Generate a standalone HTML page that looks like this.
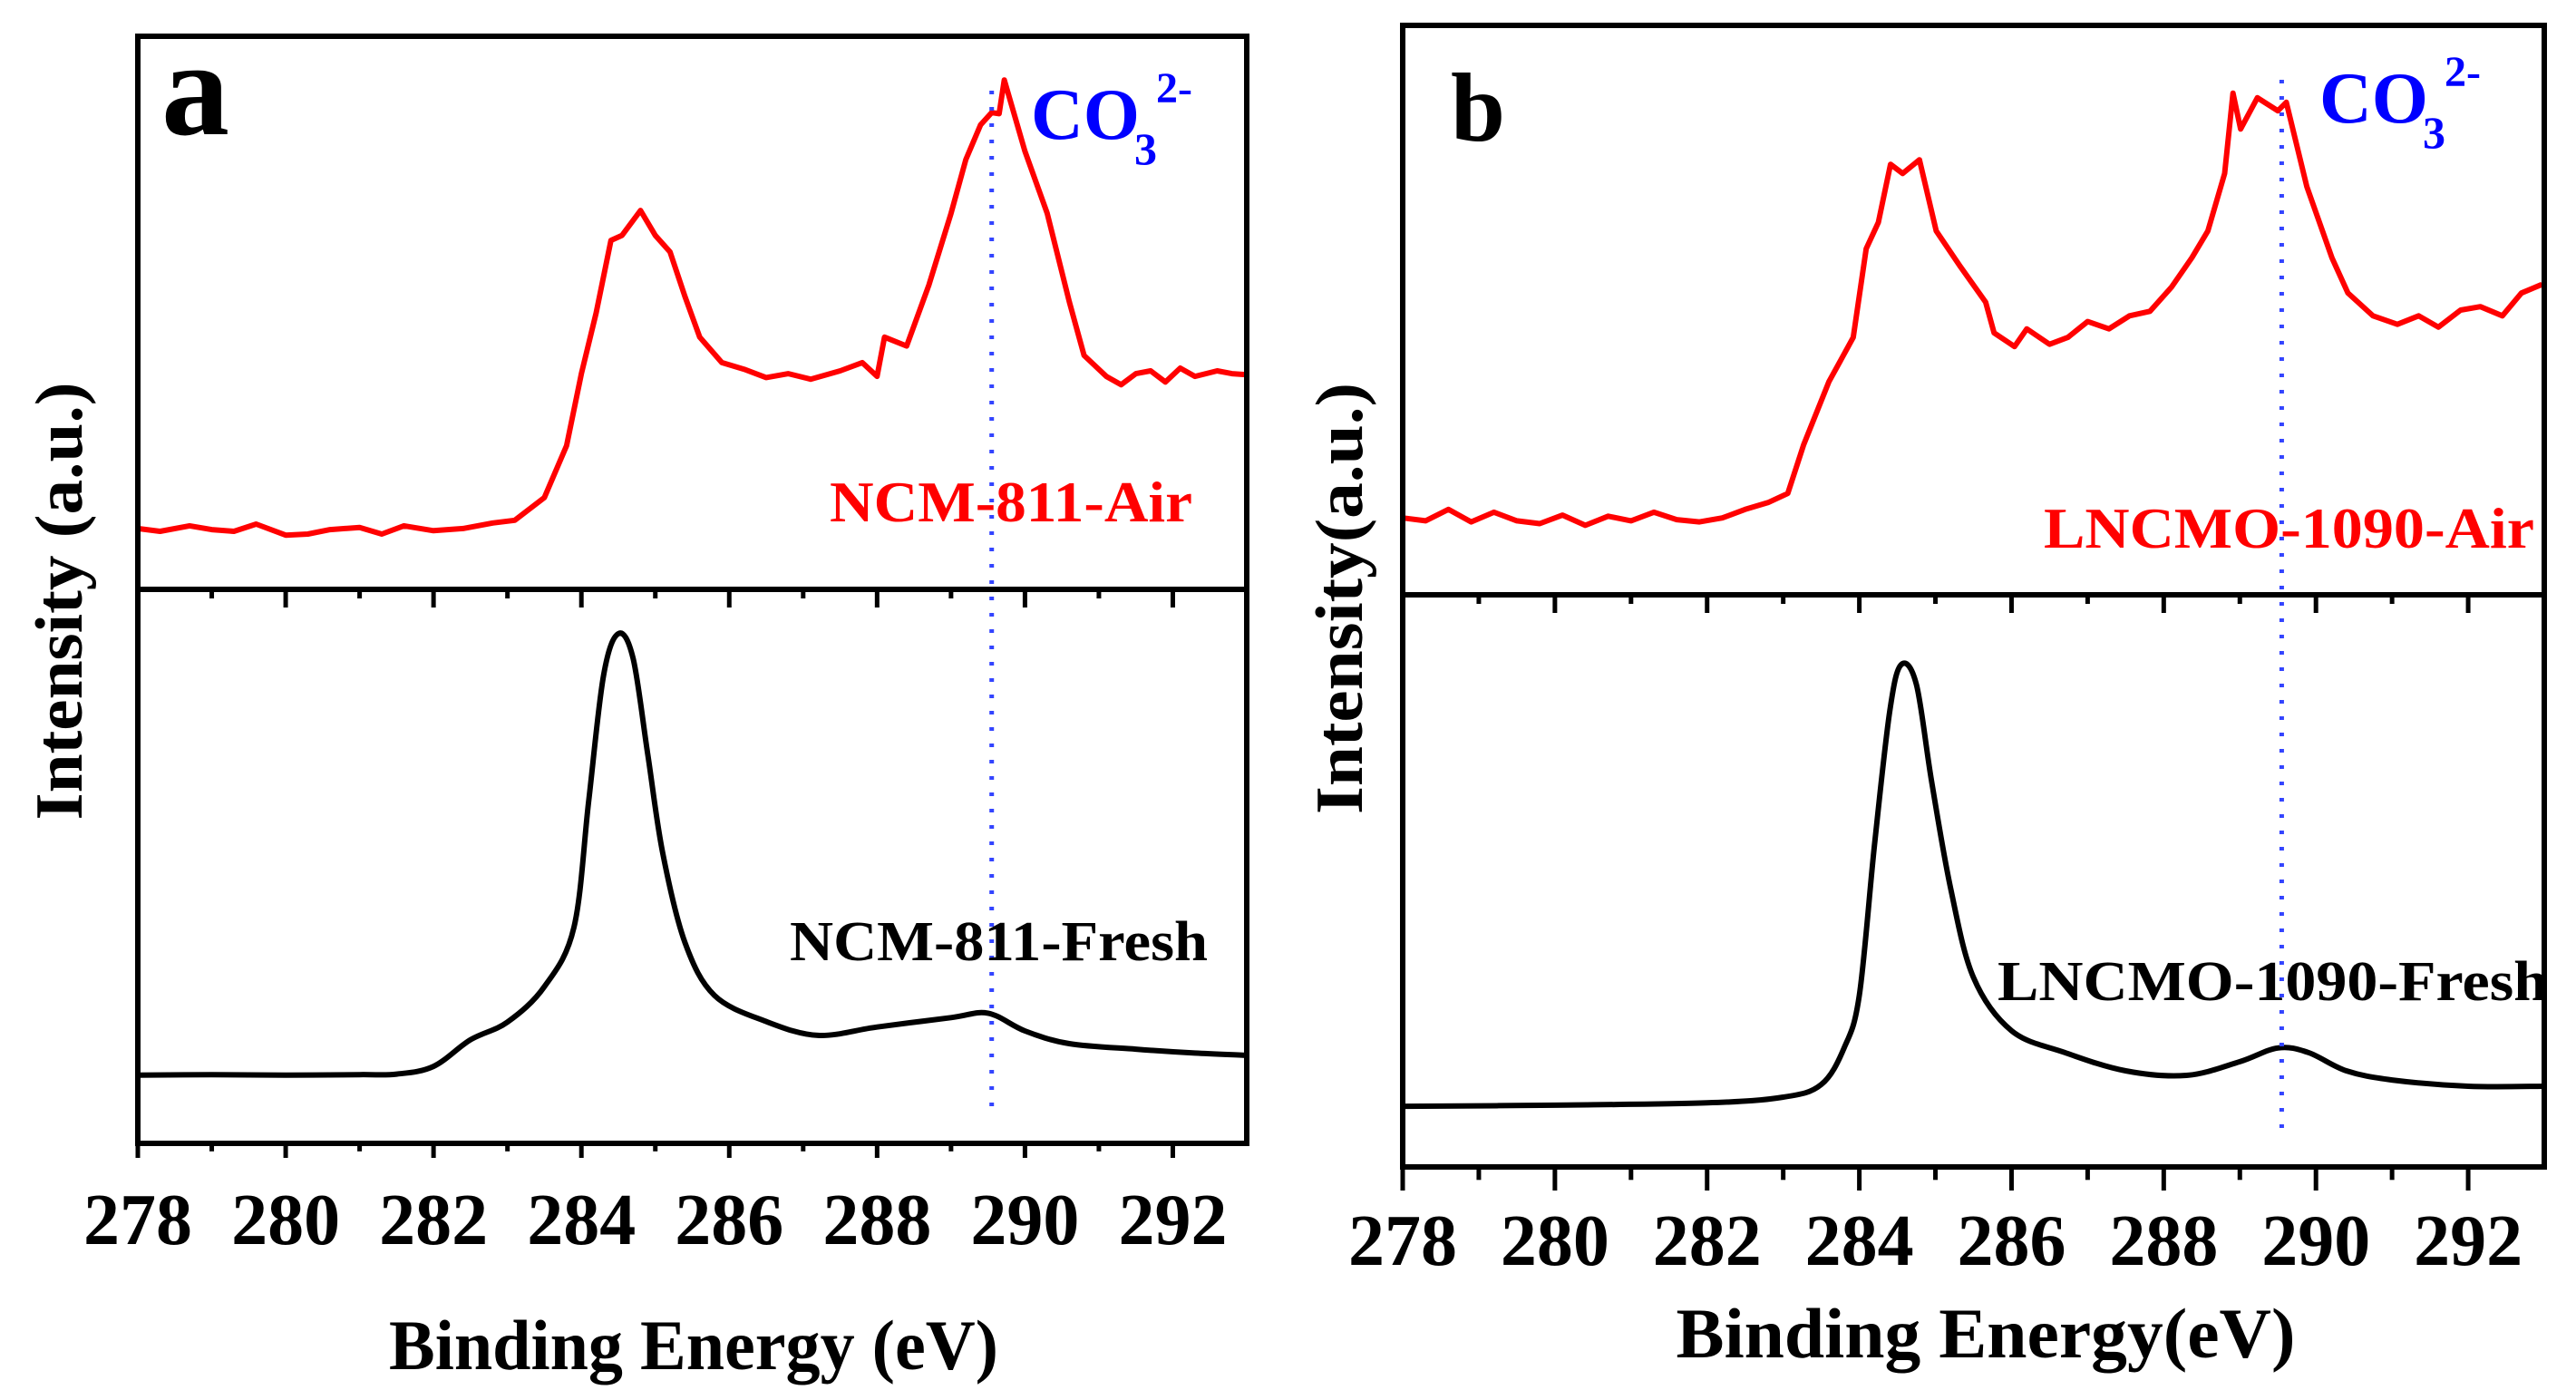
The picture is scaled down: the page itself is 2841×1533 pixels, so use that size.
<!DOCTYPE html>
<html><head><meta charset="utf-8">
<style>
html,body{margin:0;padding:0;background:#fff;}
svg{display:block;}
text{font-family:"Liberation Serif",serif;font-weight:bold;}
</style></head>
<body>
<svg id="fig" width="2841" height="1533" viewBox="0 0 2841 1533" xmlns="http://www.w3.org/2000/svg">
</svg>
<script>
// ---- data (energy eV, normalized intensity 0..1 within sub-panel) ----
const xTicks = [278,280,282,284,286,288,290,292];
const xMinor = [279,281,283,285,287,289,291];
const aAirE = [278,278.3,278.7,279,279.3,279.6,280,280.3,280.6,281,281.3,281.6,282,282.4,282.8,283.1,283.5,283.8,284,284.2,284.4,284.55,284.8,285,285.2,285.4,285.6,285.9,286.2,286.5,286.8,287.1,287.5,287.8,288,288.1,288.4,288.7,289,289.2,289.4,289.55,289.65,289.72,290,290.3,290.6,290.8,291.1,291.3,291.5,291.7,291.9,292.1,292.3,292.6,292.8,293];
const aAirI = [0.11,0.105,0.115,0.108,0.105,0.118,0.098,0.1,0.108,0.112,0.1,0.115,0.106,0.11,0.12,0.125,0.166,0.26,0.39,0.5,0.631,0.64,0.685,0.64,0.61,0.53,0.456,0.41,0.398,0.383,0.39,0.38,0.395,0.41,0.385,0.456,0.44,0.55,0.68,0.777,0.84,0.862,0.86,0.921,0.792,0.68,0.52,0.423,0.385,0.37,0.39,0.395,0.375,0.40,0.385,0.395,0.39,0.388];
const aFreshE = [278,279,280,281,281.5,282,282.5,283,283.5,283.9,284.1,284.3,284.5,284.7,284.9,285.1,285.4,285.8,286.5,287.2,288,289,289.5,290,290.6,291.5,292.3,293];
const aFreshI = [0.123,0.124,0.123,0.124,0.125,0.139,0.187,0.219,0.283,0.39,0.62,0.845,0.92,0.875,0.70,0.524,0.363,0.267,0.22,0.195,0.21,0.227,0.235,0.203,0.18,0.17,0.163,0.159];
const bAirE = [278,278.3,278.6,278.9,279.2,279.5,279.8,280.1,280.4,280.7,281,281.3,281.6,281.9,282.2,282.5,282.8,283.06,283.27,283.6,283.92,284.09,284.25,284.41,284.57,284.79,285.01,285.33,285.66,285.77,286.04,286.2,286.5,286.74,287,287.28,287.55,287.82,288.1,288.37,288.58,288.8,288.91,289.01,289.23,289.5,289.61,289.88,290.21,290.42,290.75,291.07,291.35,291.61,291.9,292.16,292.45,292.7,292.97];
const bAirI = [0.135,0.13,0.15,0.128,0.145,0.13,0.125,0.14,0.122,0.138,0.13,0.145,0.132,0.128,0.135,0.15,0.162,0.178,0.264,0.374,0.452,0.608,0.654,0.756,0.740,0.764,0.639,0.576,0.514,0.460,0.436,0.467,0.44,0.452,0.48,0.467,0.49,0.498,0.54,0.592,0.639,0.740,0.881,0.818,0.873,0.850,0.865,0.717,0.592,0.530,0.490,0.475,0.49,0.47,0.50,0.506,0.49,0.530,0.545];
const bFreshE = [278,280,282,283,283.5,283.8,284.0,284.2,284.4,284.55,284.75,284.95,285.2,285.5,286,286.7,287.5,288.3,289,289.5,289.9,290.4,291,292,293];
const bFreshI = [0.106,0.108,0.112,0.122,0.144,0.208,0.300,0.564,0.797,0.878,0.843,0.674,0.487,0.331,0.238,0.2,0.168,0.160,0.184,0.208,0.2,0.168,0.152,0.141,0.141];

const NS="http://www.w3.org/2000/svg";
const svg=document.getElementById('fig');
function mk(tag,attrs,parent){const e=document.createElementNS(NS,tag);for(const k in attrs)e.setAttribute(k,attrs[k]);(parent||svg).appendChild(e);return e;}

const panels=[
 {id:'a',x0:152,x1:1375,yt:40,ym:650,yb:1261,tick:16,tickLblY:1372,
  air:[aAirE,aAirI],fresh:[aFreshE,aFreshI],
  airLbl:'NCM-811-Air',airX:915,airY:575,airW:400,
  frLbl:'NCM-811-Fresh',frX:871,frY:1059,frW:461,
  xt:'Binding Energy (eV)',xtX:765,xtY:1510,xtW:672,
  yt2:'Intensity (a.u.)',ytX:90,ytY:663,ytW:483,
  letter:'a',lx:178,ly:148,lsize:150,
  coX:1137,coY:153},
 {id:'b',x0:1547,x1:2806,yt:28,ym:656,yb:1287,tick:26,tickLblY:1395,
  air:[bAirE,bAirI],fresh:[bFreshE,bFreshI],
  airLbl:'LNCMO-1090-Air',airX:2254,airY:604,airW:541,
  frLbl:'LNCMO-1090-Fresh',frX:2203,frY:1103,frW:607,
  xt:'Binding Energy(eV)',xtX:2190,xtY:1497,xtW:683,
  yt2:'Intensity(a.u.)',ytX:1502,ytY:660,ytW:476,
  letter:'b',lx:1600,ly:155,lsize:108,
  coX:2558,coY:135}
];

function smoothPath(pts){
  let d='M'+pts[0][0].toFixed(1)+','+pts[0][1].toFixed(1);
  for(let i=0;i<pts.length-1;i++){
    const p0=pts[i-1]||pts[i],p1=pts[i],p2=pts[i+1],p3=pts[i+2]||p2;
    const c1=[p1[0]+(p2[0]-p0[0])/6,p1[1]+(p2[1]-p0[1])/6];
    const c2=[p2[0]-(p3[0]-p1[0])/6,p2[1]-(p3[1]-p1[1])/6];
    d+='C'+c1[0].toFixed(1)+','+c1[1].toFixed(1)+' '+c2[0].toFixed(1)+','+c2[1].toFixed(1)+' '+p2[0].toFixed(1)+','+p2[1].toFixed(1);
  }
  return d;
}

panels.forEach(p=>{
  const g=mk('g',{});
  
  
  const xs=e=>p.x0+(e-278)/15*(p.x1-p.x0);
  const yTop=f=>p.ym-f*(p.ym-p.yt);
  const yBot=f=>p.yb-f*(p.yb-p.ym);
  function curve(E,I,ys,col,name,smooth){
    const pts=E.map((e,i)=>[xs(e),ys(I[i])]);
    let d;
    if(smooth) d=smoothPath(pts);
    else {d='';pts.forEach((q,i)=>{d+=(i?'L':'M')+q[0].toFixed(1)+','+q[1].toFixed(1);});}
    const pa=mk('path',{d:d,fill:'none',stroke:col,'stroke-width':6,'stroke-linejoin':'round'},g);
    
    
  }
  curve(p.air[0],p.air[1],yTop,'#ff0000','air-spectrum-'+p.id,false);
  curve(p.fresh[0],p.fresh[1],yBot,'#000000','fresh-spectrum-'+p.id,true);
  const dl=mk('line',{x1:xs(289.55),x2:xs(289.55),y1:p.yt+60,y2:p.yb-40,stroke:'#3344ff','stroke-width':5,'stroke-dasharray':'4 14'},g);
  
  
  const fr=mk('rect',{x:p.x0,y:p.yt,width:p.x1-p.x0,height:p.yb-p.yt,fill:'none',stroke:'#000','stroke-width':6},g);
  
  
  const dv=mk('line',{x1:p.x0,x2:p.x1,y1:p.ym,y2:p.ym,stroke:'#000','stroke-width':6},g);
  
  
  xTicks.forEach(t=>{
    const l=mk('line',{x1:xs(t),x2:xs(t),y1:p.yb,y2:p.yb+p.tick,stroke:'#000','stroke-width':5},g);
    
    
    const l2=mk('line',{x1:xs(t),x2:xs(t),y1:p.ym,y2:p.ym+20,stroke:'#000','stroke-width':5},g);
    
    
    const tx=mk('text',{x:xs(t),y:p.tickLblY,'font-size':80,'text-anchor':'middle',fill:'#000'},g);
    tx.textContent=t;
    
    
  });
  xMinor.forEach(t=>{
    const l=mk('line',{x1:xs(t),x2:xs(t),y1:p.yb,y2:p.yb+p.tick*0.55,stroke:'#000','stroke-width':5},g);
    
    
    const l2=mk('line',{x1:xs(t),x2:xs(t),y1:p.ym,y2:p.ym+10,stroke:'#000','stroke-width':5},g);
    
    
  });
  function txt(s,x,y,size,col,w,name,extra){
    const t=mk('text',Object.assign({x:x,y:y,'font-size':size,fill:col},extra||{}),g);
    if(w){t.setAttribute('textLength',w);t.setAttribute('lengthAdjust','spacingAndGlyphs');}
    t.textContent=s;
    
    
    return t;
  }
  txt(p.airLbl,p.airX,p.airY,64,'#ff0000',p.airW,'air-series-label');
  txt(p.frLbl,p.frX,p.frY,62,'#000',p.frW,'fresh-series-label');
  txt(p.xt,p.xtX-p.xtW/2,p.xtY,78,'#000',p.xtW,'x-axis-title');
  txt(p.yt2,0,0,74,'#000',p.ytW,'y-axis-title',{transform:'translate('+p.ytX+','+(p.ytY+p.ytW/2)+') rotate(-90)'});
  txt(p.letter,p.lx,p.ly,p.lsize,'#000',null,'panel-letter');
  txt('CO',p.coX,p.coY,80,'#0000ff',null,'carbonate-label');
  txt('3',p.coX+114,p.coY+28,50,'#0000ff',null,'carbonate-subscript');
  txt('2-',p.coX+138,p.coY-40,48,'#0000ff',null,'carbonate-superscript');
});
</script>
</body></html>
